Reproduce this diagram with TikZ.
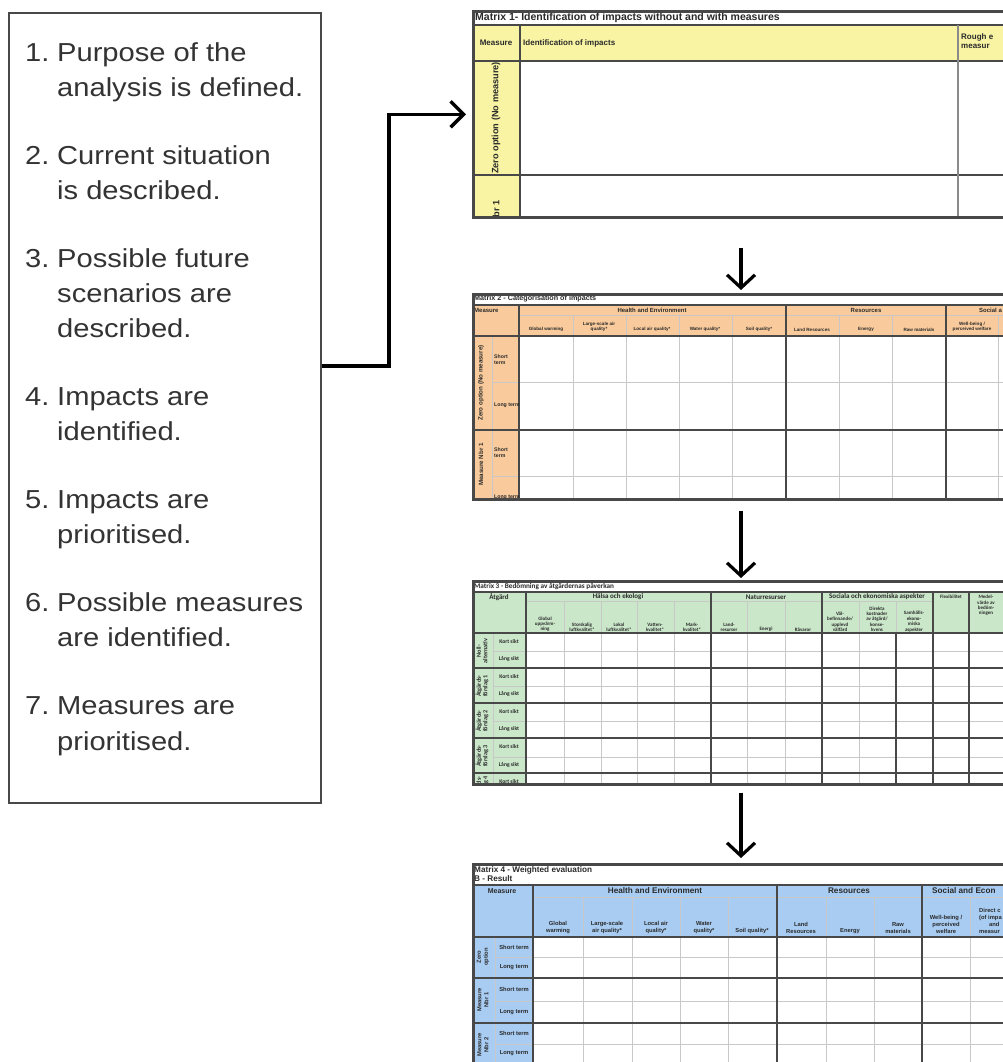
\documentclass[tikz,border=0pt]{standalone}
\usepackage{fontspec}
\setmainfont{Liberation Sans}
\newfontfamily\listfont[FakeStretch=1.12]{Liberation Sans}
\newfontfamily\carfont{Carlito}
\usetikzlibrary{arrows.meta,calc}
\definecolor{yel}{HTML}{F8F4A4}
\definecolor{org}{HTML}{F9CB9C}
\definecolor{grn}{HTML}{CBE7CA}
\definecolor{blu}{HTML}{A8CCF2}
\definecolor{txt}{HTML}{333333}
\definecolor{tc}{HTML}{2A2A2A}
\definecolor{gl}{HTML}{C8C8C8}
\definecolor{gm}{HTML}{8A8A8A}
\definecolor{gd}{HTML}{484848}
\newcommand\lstep[2]{\noindent\hangindent=32pt\hangafter=1\makebox[32pt][l]{#1}#2\par}
\tikzset{
  frame/.style={draw=gd, line width=2.6pt, inner sep=0, anchor=north west},
  thk/.style={draw=gd, line width=1.3pt},
  thn/.style={draw=gl, line width=0.9pt},
  thm/.style={draw=gm, line width=1.1pt},
  conn/.style={draw=black, line width=3.4pt, line join=miter, -{Straight Barb[length=13pt,width=26pt]}},
  darr/.style={draw=black, line width=3.2pt, line join=miter, -{Straight Barb[length=13pt,width=28pt]}},
  lab/.style={inner sep=0, text=tc, align=center},
  mA/.style={lab, font=\fontsize{8}{9.5}\selectfont\bfseries},
  mAr/.style={lab, font=\fontsize{9.2}{10.5}\selectfont\bfseries},
  mAt/.style={lab, font=\fontsize{10.5}{12}\selectfont\bfseries},
  mBt/.style={lab, font=\fontsize{7.2}{8}\selectfont\bfseries},
  mBg/.style={lab, font=\fontsize{6}{7}\selectfont\bfseries},
  mBs/.style={lab, font=\fontsize{4.6}{5.6}\selectfont\bfseries},
  mBr/.style={lab, font=\fontsize{5.2}{6}\selectfont\bfseries},
  mBq/.style={lab, font=\fontsize{6.2}{7}\selectfont\bfseries},
  mCt/.style={lab, font=\carfont\fontsize{7.2}{8}\selectfont\bfseries},
  mCg/.style={lab, font=\carfont\fontsize{7}{8}\selectfont\bfseries},
  mCs/.style={lab, font=\carfont\fontsize{5}{5.4}\selectfont\bfseries},
  mCr/.style={lab, font=\carfont\fontsize{6.2}{6.6}\selectfont\bfseries},
  mCk/.style={lab, font=\carfont\fontsize{5.6}{6}\selectfont\bfseries},
  mDt/.style={lab, font=\fontsize{8.2}{9.5}\selectfont\bfseries},
  mDg/.style={lab, font=\fontsize{8.2}{9.5}\selectfont\bfseries},
  mDs/.style={lab, font=\fontsize{5.8}{7}\selectfont\bfseries},
}
\begin{document}
\begin{tikzpicture}[x=1pt,y=-1pt]
\useasboundingbox (0,0) rectangle (1002,1062);
\fill[white] (0,0) rectangle (1002,1062);

% ---------------- left box with the steps ----------------
\node[frame, draw=gd, line width=2pt, minimum width=312pt, minimum height=790pt] (lbox) at (8,12) {};
\node[anchor=base west, inner sep=0, text=txt] (steps) at (25,62) {\parbox[t]{292pt}{%
  \listfont\fontsize{26}{35}\selectfont\setlength{\parskip}{33pt}%
  \lstep{1.}{Purpose of the\\analysis is defined.}
  \lstep{2.}{Current situation\\is described.}
  \lstep{3.}{Possible future\\scenarios are\\described.}
  \lstep{4.}{Impacts are\\identified.}
  \lstep{5.}{Impacts are\\prioritised.}
  \lstep{6.}{Possible measures\\are identified.}
  \lstep{7.}{Measures are\\prioritised.}}};

% ---------------- Matrix 1 ----------------
\begin{scope}
\clip (472,10) rectangle (1012,216);
\fill[yel] (472,25) rectangle (1012,61);
\fill[yel] (472,61) rectangle (520,216);
\draw[thk] (472,25) -- (1012,25);
\draw[thk] (472,61) -- (1012,61);
\draw[thk] (472,175) -- (1012,175);
\draw[thk] (520,25) -- (520,216);
\draw[thm] (958,25) -- (958,216);
\node[mAt, anchor=west] (m1title) at (475,17.5) {Matrix 1- Identification of impacts without and with measures};
\node[mA] (m1meas) at (496,43) {Measure};
\node[mA, anchor=west] (m1id) at (523,43) {Identification of impacts};
\node[mA, anchor=west, align=left] (m1rough) at (961,41) {Rough e\\measur};
\node[mAr, rotate=90] (m1zero) at (496,118) {Zero option (No measure)};
\node[mAr, rotate=90, anchor=east] (m1nbr) at (496,200) {Measure Nbr 1};
\end{scope}
\node[frame, minimum width=545pt, minimum height=206pt] (m1) at (472,10) {};

% ---------------- Matrix 2 ----------------
\begin{scope}
\clip (472,293) rectangle (1012,498);
\fill[org] (472,305) rectangle (1012,336);
\fill[org] (472,336) rectangle (519,498);
\foreach \x in {573,626,679,732,839,892,998} \draw[thn] (\x,315) -- (\x,498);
\draw[thn] (492,336) -- (492,498);
\foreach \y in {382,476} \draw[thn] (492,\y) -- (1012,\y);
\draw[thn] (519,315) -- (1012,315);
\foreach \x in {519,786,946} \draw[thk] (\x,305) -- (\x,498);
\foreach \y in {305,336,430} \draw[thk] (472,\y) -- (1012,\y);
\node[mBt, anchor=west] (m2title) at (474,299) {Matrix 2 - Categorisation of impacts};
\node[mBg, anchor=west] (m2meas) at (474,310) {Measure};
\node[mBg] (m2he) at (652,310) {Health and Environment};
\node[mBg] (m2res) at (866,310) {Resources};
\node[mBg, anchor=west] (m2soc) at (979,310) {Social a};
\node[mBs, anchor=south] (m2c1) at (546,332) {Global warming};
\node[mBs, anchor=south] (m2c2) at (599,332) {Large-scale air\\quality*};
\node[mBs, anchor=south] (m2c3) at (652,332) {Local air quality*};
\node[mBs, anchor=south] (m2c4) at (705,332) {Water quality*};
\node[mBs, anchor=south] (m2c5) at (759,332) {Soil quality*};
\node[mBs, anchor=south] (m2c6) at (812,332) {Land Resources};
\node[mBs, anchor=south] (m2c7) at (866,332) {Energy};
\node[mBs, anchor=south] (m2c8) at (919,332) {Raw materials};
\node[mBs, anchor=south] (m2c9) at (972,332) {Well-being /\\perceived welfare};
\node[mBq, rotate=90] (m2zero) at (481,383) {Zero option (No measure)};
\node[mBq, rotate=90, anchor=east] (m2nbr) at (481,443) {Measure Nbr 1};
\node[mBr, anchor=west, align=left] (m2s1) at (494,360) {Short\\term};
\node[mBr, anchor=west] (m2l1) at (494,405) {Long term};
\node[mBr, anchor=west, align=left] (m2s2) at (494,453) {Short\\term};
\node[mBr, anchor=west] (m2l2) at (494,497) {Long term};
\end{scope}
\node[frame, minimum width=545pt, minimum height=205pt] (m2) at (472,293) {};

% ---------------- Matrix 3 ----------------
\begin{scope}
\clip (472,580) rectangle (1012,783);
\fill[grn] (472,592) rectangle (1012,633);
\fill[grn] (472,633) rectangle (526,783);
\foreach \x in {564,601,637,674,747,785,859} \draw[thn] (\x,601) -- (\x,783);
\draw[thn] (896,601) -- (896,633);
\draw[thn] (493,633) -- (493,783);
\draw[thn] (526,601) -- (933,601);
\foreach \y in {651,686,721,757} \draw[thn] (493,\y) -- (1012,\y);
\foreach \x in {526,711,822,933,969} \draw[thk] (\x,592) -- (\x,783);
\draw[thk] (896,633) -- (896,783);
\foreach \y in {592,633,668,703,738,773} \draw[thk] (472,\y) -- (1012,\y);
\node[mCt, anchor=west] (m3title) at (474,586) {Matrix 3 - Bedömning av åtgärdernas påverkan};
\node[mCg] (m3atg) at (499,597) {Åtgärd};
\node[mCg] (m3hal) at (618,597) {Hälsa och ekologi};
\node[mCg] (m3nat) at (766,597) {Naturresurser};
\node[mCg] (m3soc) at (877,597) {Sociala och ekonomiska aspekter};
\node[mCs] (m3flex) at (951,597) {Flexibilitet};
\node[mCs, anchor=north] (m3med) at (986,595) {Medel-\\värde av\\bedöm-\\ningen};
\node[mCs, anchor=south] (m3c1) at (545,632) {Global\\uppvärm-\\ning};
\node[mCs, anchor=south] (m3c2) at (582,632) {Storskalig\\luftkvalitet*};
\node[mCs, anchor=south] (m3c3) at (619,632) {Lokal\\luftkvalitet*};
\node[mCs, anchor=south] (m3c4) at (655,632) {Vatten-\\kvalitet*};
\node[mCs, anchor=south] (m3c5) at (692,632) {Mark-\\kvalitet*};
\node[mCs, anchor=south] (m3c6) at (729,632) {Land-\\resurser};
\node[mCs, anchor=south] (m3c7) at (766,632) {Energi};
\node[mCs, anchor=south] (m3c8) at (803,632) {Råvaror};
\node[mCs, anchor=south] (m3c9) at (840,632) {Väl-\\befinnande/\\upplevd\\välfärd};
\node[mCs, anchor=south] (m3c10) at (877,632) {Direkta\\kostnader\\av åtgärd/\\konse-\\kvens};
\node[mCs, anchor=south] (m3c11) at (914,632) {Samhälls-\\ekono-\\miska\\aspekter};
\node[mCr, rotate=90] (m3r1) at (482,651) {Noll-\\alternativ};
\node[mCr, rotate=90] (m3r2) at (482,686) {Åtgärds-\\förslag 1};
\node[mCr, rotate=90] (m3r3) at (482,721) {Åtgärds-\\förslag 2};
\node[mCr, rotate=90] (m3r4) at (482,756) {Åtgärds-\\förslag 3};
\node[mCr, rotate=90, anchor=east] (m3r5) at (482,776) {Åtgärds-\\förslag 4};
\foreach \y/\n in {642/1,677/2,712/3,747/4,782/5} \node[mCk] (m3k\n) at (509,\y) {Kort sikt};
\foreach \y/\n in {659/1,694/2,729/3,765/4} \node[mCk] (m3l\n) at (509,\y) {Lång sikt};
\end{scope}
\node[frame, minimum width=545pt, minimum height=203pt] (m3) at (472,580) {};

% ---------------- Matrix 4 ----------------
\begin{scope}
\clip (472,863) rectangle (1012,1070);
\fill[blu] (472,885) rectangle (1012,937);
\fill[blu] (472,937) rectangle (533,1070);
\foreach \x in {583,632,680,728,826,874,970} \draw[thn] (\x,897) -- (\x,1070);
\draw[thn] (495,937) -- (495,1070);
\draw[thn] (533,897) -- (1012,897);
\foreach \y in {957,1001,1044} \draw[thn] (495,\y) -- (1012,\y);
\foreach \x in {533,777,922} \draw[thk] (\x,885) -- (\x,1070);
\foreach \y in {885,937,978,1023} \draw[thk] (472,\y) -- (1012,\y);
\node[mDt, anchor=west, align=left] (m4title) at (474,874) {Matrix 4 - Weighted evaluation\\B - Result};
\node[mDs, font=\fontsize{7}{8}\selectfont\bfseries] (m4meas) at (502,891) {Measure};
\node[mDg] (m4he) at (655,891) {Health and Environment};
\node[mDg] (m4res) at (849,891) {Resources};
\node[mDg, anchor=west] (m4soc) at (932,891) {Social and Econ};
\node[mDs, anchor=south] (m4c1) at (558,934) {Global\\warming};
\node[mDs, anchor=south] (m4c2) at (607,934) {Large-scale\\air quality*};
\node[mDs, anchor=south] (m4c3) at (656,934) {Local air\\quality*};
\node[mDs, anchor=south] (m4c4) at (704,934) {Water\\quality*};
\node[mDs, anchor=south] (m4c5) at (752,934) {Soil quality*};
\node[mDs, anchor=south] (m4c6) at (801,934) {Land\\Resources};
\node[mDs, anchor=south] (m4c7) at (850,934) {Energy};
\node[mDs, anchor=south] (m4c8) at (898,934) {Raw\\materials};
\node[mDs, anchor=south] (m4c9) at (946,934) {Well-being /\\perceived\\welfare};
\node[mDs, anchor=south west, align=left] (m4c10) at (979,934) {Direct c\\(of impa\\\hspace*{10pt}and\\measur};
\node[mDs, rotate=90] (m4r1) at (483,957) {Zero\\option};
\node[mDs, rotate=90] (m4r2) at (483,1000) {Measure\\Nbr 1};
\node[mDs, rotate=90] (m4r3) at (483,1045) {Measure\\Nbr 2};
\foreach \y/\n in {947/1,989/2,1033/3} \node[mDs] (m4s\n) at (514,\y) {Short term};
\foreach \y/\n in {967/1,1012/2,1053/3} \node[mDs] (m4l\n) at (514,\y) {Long term};
\end{scope}
\node[frame, minimum width=545pt, minimum height=210pt] (m4) at (472,863) {};

% ---------------- connectors ----------------
\draw[conn] ([yshift=42pt]lbox.east) -- ++(67,0) |- ([xshift=-6pt]m1.west);
\draw[darr] ([xshift=269pt,yshift=-29pt]m1.south west) -- ([xshift=269pt,yshift=3pt]m2.north west);
\draw[darr] ([xshift=269pt,yshift=-10pt]m2.south west) -- ([xshift=269pt,yshift=2pt]m3.north west);
\draw[darr] ([xshift=269pt,yshift=-7pt]m3.south west) -- ([xshift=269pt,yshift=5pt]m4.north west);
\end{tikzpicture}
\end{document}
